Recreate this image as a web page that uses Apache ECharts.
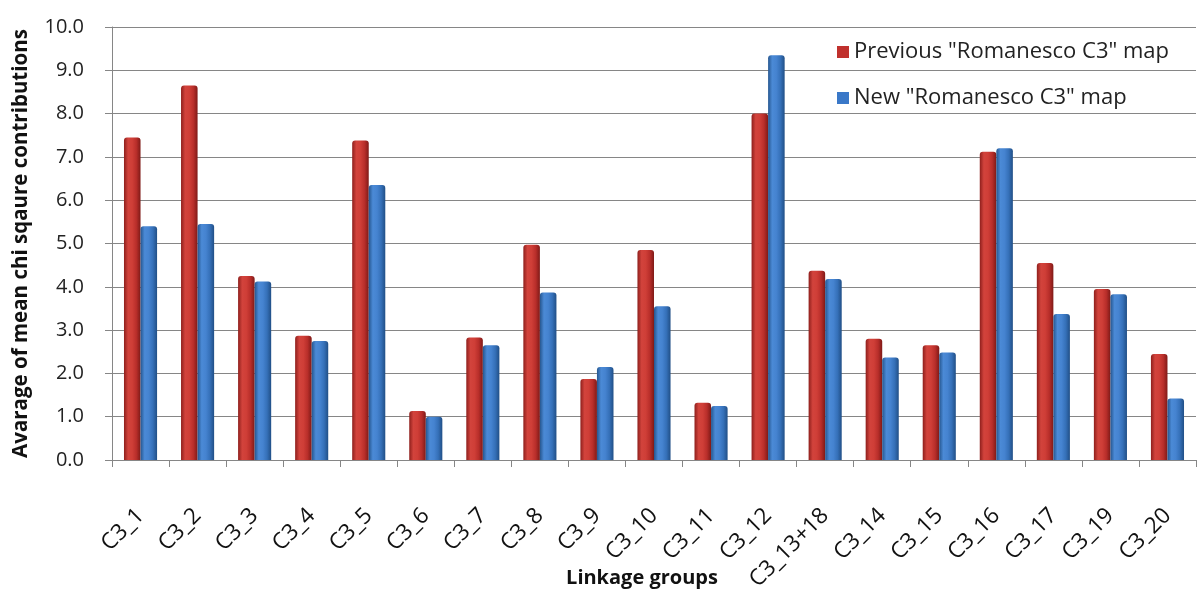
<!DOCTYPE html>
<html><head><meta charset="utf-8">
<script src="https://cdn.jsdelivr.net/npm/echarts@6/dist/echarts.min.js"></script>
<style>html,body{margin:0;padding:0;background:#fff}#c{width:1200px;height:600px}</style>
</head><body><div id="c"></div>
<script>
const categories = ["C3_1","C3_2","C3_3","C3_4","C3_5","C3_6","C3_7","C3_8","C3_9","C3_10","C3_11","C3_12","C3_13+18","C3_14","C3_15","C3_16","C3_17","C3_19","C3_20"];
const previousMap = [7.45,8.65,4.25,2.87,7.38,1.13,2.83,4.97,1.87,4.85,1.32,8.0,4.37,2.8,2.65,7.12,4.55,3.95,2.45];
const newMap = [5.4,5.45,4.12,2.75,6.35,1.0,2.65,3.87,2.15,3.55,1.25,9.35,4.18,2.37,2.48,7.2,3.37,3.83,1.42];
const seriesNames = ['Previous "Romanesco C3" map','New "Romanesco C3" map'];

const FONT = '"Open Sans", Lato, sans-serif';
function grad(stops){return {type:'linear',x:0,y:0,x2:1,y2:0,colorStops:stops.map((c,i)=>({offset:i/(stops.length-1),color:c}))};}
const redG = grad(['#8e1f1c','#d2433c','#cf3e37','#b82e2a','#7f1a17']);
const blueG = grad(['#25568f','#4b8ad6','#4583d0','#3570b8','#214f86']);

const chart = echarts.init(document.getElementById('c'), null, {renderer:'canvas'});
chart.setOption({
  animation:false,
  backgroundColor:'#fff',
  grid:{left:112,right:4,top:27,bottom:140,containLabel:false,outerBoundsMode:'none'},
  legend:{
    orient:'vertical', left:832, top:36, itemGap:24,
    itemWidth:12, itemHeight:12, icon:'rect',
    textStyle:{fontFamily:FONT,fontSize:22,color:'#222'},
    data:[{name:seriesNames[0],itemStyle:{color:'#c0312d'}},{name:seriesNames[1],itemStyle:{color:'#3a78c8'}}]
  },
  xAxis:{
    type:'category', data:categories,
    name:'Linkage groups', nameLocation:'middle', nameGap:108, nameMoveOverlap:false,
    nameTextStyle:{fontFamily:FONT,fontSize:20,fontWeight:'bold',color:'#111',padding:[0,24,0,0]},
    axisLine:{lineStyle:{color:'#868686',width:1}},
    axisTick:{show:true,length:7,lineStyle:{color:'#868686'}},
    axisLabel:{rotate:45,fontFamily:FONT,fontSize:22.5,color:'#111',margin:52,interval:0}
  },
  yAxis:{
    type:'value', min:0, max:10, interval:1,
    name:'Avarage of mean chi sqaure contributions', nameLocation:'middle', nameGap:80, nameMoveOverlap:false,
    nameTextStyle:{fontFamily:FONT,fontSize:20.5,fontWeight:'bold',color:'#111'},
    axisLine:{show:true,lineStyle:{color:'#868686'}},
    axisTick:{show:true,length:7,lineStyle:{color:'#868686'}},
    axisLabel:{fontFamily:FONT,fontSize:20,color:'#222',margin:28,formatter:v=>v.toFixed(1)},
    splitLine:{show:true,lineStyle:{color:'#868686',width:1}}
  },
  series:[
    {name:seriesNames[0],type:'bar',data:previousMap,barWidth:'29%',barGap:'0%',barCategoryGap:'42%',
     itemStyle:{color:redG,borderRadius:[3,3,0,0]}},
    {name:seriesNames[1],type:'bar',data:newMap,barWidth:'29%',barGap:'0%',
     itemStyle:{color:blueG,borderRadius:[3,3,0,0]}}
  ]
});
</script></body></html>
